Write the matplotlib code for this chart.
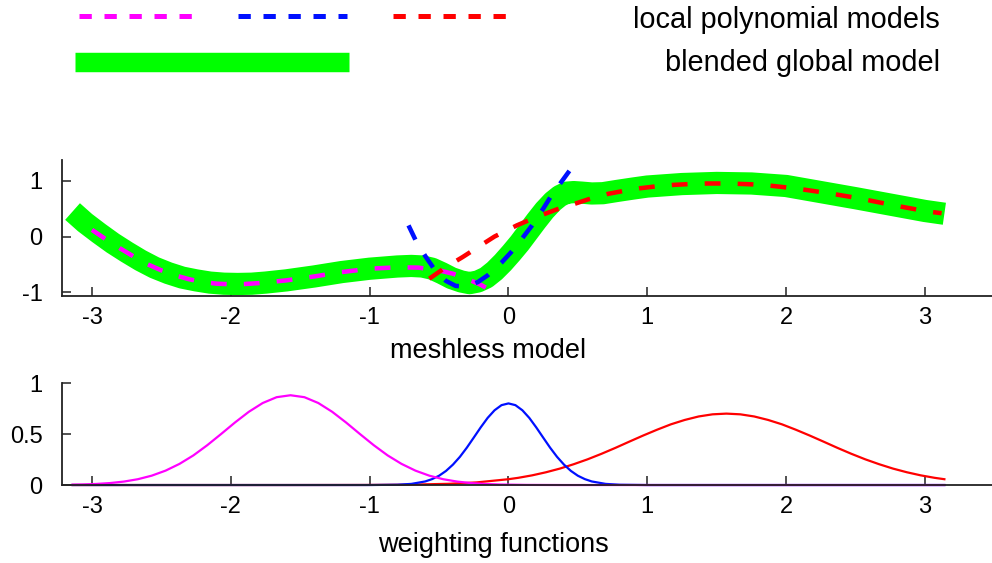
import matplotlib
matplotlib.use("Agg")
import matplotlib.pyplot as plt

plt.rcParams['font.family'] = ['Liberation Sans', 'DejaVu Sans']
plt.rcParams['axes.unicode_minus'] = False

# blended global model (green band)
x_glob = [-3.14, -3.05, -2.95, -2.85, -2.75, -2.65, -2.55, -2.45, -2.35, -2.25, -2.15,
          -2.05, -1.95, -1.85, -1.75, -1.6, -1.4, -1.2, -1.0, -0.8, -0.7, -0.62, -0.55,
          -0.48, -0.41, -0.34, -0.28, -0.22, -0.16, -0.1, -0.04, 0.02, 0.08, 0.14, 0.2,
          0.26, 0.32, 0.37, 0.42, 0.47, 0.53, 0.6, 0.68, 0.78, 0.9, 1.0, 1.25, 1.5,
          1.75, 2.0, 2.25, 2.5, 2.75, 3.0, 3.14]
y_glob = [0.45, 0.25, 0.06, -0.12, -0.28, -0.43, -0.56, -0.66, -0.74, -0.79, -0.83,
          -0.85, -0.855, -0.85, -0.83, -0.79, -0.72, -0.64, -0.58, -0.54, -0.53, -0.54, -0.58,
          -0.66, -0.75, -0.81, -0.84, -0.81, -0.74, -0.62, -0.47, -0.30, -0.12, 0.08, 0.28,
          0.47, 0.63, 0.73, 0.79, 0.80, 0.79, 0.775, 0.78, 0.82, 0.865, 0.90, 0.945, 0.965,
          0.955, 0.91, 0.80, 0.69, 0.575, 0.46, 0.41]

# local polynomial models
x_loc1 = [-3.0, -2.9, -2.8, -2.7, -2.6, -2.5, -2.4, -2.3, -2.2, -2.1, -2.0, -1.9,
          -1.8, -1.6, -1.4, -1.2, -1.0, -0.8, -0.65, -0.5, -0.4, -0.3, -0.2, -0.12, -0.05]
y_loc1 = [0.12, -0.05, -0.21, -0.36, -0.50, -0.61, -0.70, -0.77, -0.82, -0.85, -0.86, -0.855,
          -0.84, -0.79, -0.72, -0.64, -0.58, -0.555, -0.56, -0.61, -0.67, -0.76, -0.87, -0.98, -1.1]

x_loc2 = [-0.72, -0.67, -0.6, -0.52, -0.45, -0.38, -0.3, -0.22, -0.15, -0.05, 0.02,
          0.1, 0.17, 0.25, 0.31, 0.38, 0.45, 0.49]
y_loc2 = [0.20, -0.06, -0.35, -0.64, -0.80, -0.89, -0.90, -0.82, -0.70, -0.47, -0.28,
          -0.03, 0.20, 0.50, 0.74, 0.98, 1.22, 1.34]

x_loc3 = [-0.57, -0.45, -0.33, -0.2, -0.1, 0.06, 0.2, 0.35, 0.49, 0.6, 0.72, 0.85,
          0.95, 1.07, 1.19, 1.31, 1.43, 1.54, 1.64, 1.75, 1.87, 1.98, 2.10, 2.21,
          2.33, 2.45, 2.56, 2.67, 2.78, 2.9, 3.02, 3.12]
y_loc3 = [-0.76, -0.55, -0.37, -0.16, 0.0, 0.20, 0.35, 0.49, 0.60, 0.69, 0.77, 0.83,
          0.87, 0.905, 0.93, 0.945, 0.955, 0.955, 0.95, 0.94, 0.92, 0.89, 0.855, 0.815,
          0.77, 0.72, 0.67, 0.615, 0.56, 0.505, 0.45, 0.42]

# weighting functions
x_w1 = [-3.14, -3.07, -2.97, -2.87, -2.77, -2.67, -2.57, -2.47, -2.37, -2.27, -2.17,
        -2.07, -1.97, -1.87, -1.77, -1.67, -1.57, -1.47, -1.37, -1.27, -1.17, -1.07,
        -0.97, -0.87, -0.77, -0.67, -0.57, -0.47, -0.37, -0.27, -0.17, -0.07, 0.13,
        0.4, 3.14]
y_w1 = [0.004, 0.0054, 0.0104, 0.0192, 0.0338, 0.0569, 0.0916, 0.141, 0.207, 0.290, 0.390,
        0.500, 0.613, 0.718, 0.804, 0.861, 0.88, 0.861, 0.804, 0.718, 0.613, 0.500,
        0.390, 0.290, 0.207, 0.141, 0.0916, 0.0569, 0.0338, 0.0192, 0.0104, 0.0054, 0.0013,
        0.0, 0.0]

x_w2 = [-3.14, -1.0, -0.8, -0.7, -0.6, -0.55, -0.5, -0.45, -0.4, -0.35, -0.3, -0.25,
        -0.2, -0.15, -0.1, -0.05, 0.0, 0.05, 0.1, 0.15, 0.2, 0.25, 0.3, 0.35,
        0.4, 0.45, 0.5, 0.55, 0.6, 0.7, 0.8, 1.0, 3.14]
y_w2 = [0.0, 0.0, 0.003, 0.011, 0.035, 0.058, 0.091, 0.138, 0.200, 0.276, 0.366, 0.465,
        0.565, 0.658, 0.733, 0.783, 0.80, 0.783, 0.733, 0.658, 0.565, 0.465, 0.366, 0.276,
        0.200, 0.138, 0.091, 0.058, 0.035, 0.011, 0.003, 0.0, 0.0]

x_w3 = [-3.14, -1.6, -1.03, -0.73, -0.43, -0.23, 0.0, 0.07, 0.17, 0.27, 0.37, 0.47,
        0.57, 0.67, 0.77, 0.87, 0.97, 1.07, 1.17, 1.27, 1.37, 1.47, 1.57, 1.67,
        1.77, 1.87, 1.97, 2.07, 2.17, 2.27, 2.37, 2.47, 2.57, 2.67, 2.77, 2.87,
        2.97, 3.07, 3.14]
y_w3 = [0.0, 0.0, 0.0007, 0.0032, 0.0118, 0.0257, 0.057, 0.0705, 0.0947, 0.125, 0.161, 0.204,
        0.252, 0.306, 0.364, 0.425, 0.485, 0.542, 0.595, 0.638, 0.672, 0.693, 0.70, 0.693,
        0.672, 0.638, 0.595, 0.542, 0.485, 0.425, 0.364, 0.306, 0.252, 0.204, 0.161, 0.125,
        0.0947, 0.0705, 0.057]

xticks = [-3, -2, -1, 0, 1, 2, 3]
yticks_m = [-1, 0, 1]
yticks_w = [0, 0.5, 1]
yticklabels_w = ['0', '0.5', '1']

MAG = '#ff00ff'
BLU = '#0010ff'
RED = '#ff0000'
GRN = '#00ff00'

fig = plt.figure(figsize=(9.92, 5.63), dpi=100)

def style(ax):
    for s in ['top', 'right']:
        ax.spines[s].set_visible(False)
    for s in ['left', 'bottom']:
        ax.spines[s].set_color('#222222')
        ax.spines[s].set_linewidth(1.3)
    ax.tick_params(direction='in', length=6.5, width=1.1, color='#222222',
                   labelsize=17, top=False, right=False)
    ax.tick_params(axis='y', pad=14)
    ax.tick_params(axis='x', pad=8)
    ax.set_xlim(-3.216, 3.483)
    ax.set_xticks(xticks)

# meshless model
ax1 = fig.add_axes([0.0625, 0.4742, 0.9375, 0.2416])
style(ax1)
ax1.set_ylim(-1.072, 1.378)
ax1.set_yticks(yticks_m)
ax1.plot(x_glob, y_glob, color=GRN, lw=16, solid_capstyle='butt', solid_joinstyle='round')
ax1.plot(x_loc1, y_loc1, color=MAG, lw=3.25, dashes=(3.5, 3.8), dash_capstyle='butt')
ax1.plot(x_loc2, y_loc2, color=BLU, lw=3.25, dashes=(3.5, 3.8), dash_capstyle='butt')
ax1.plot(x_loc3, y_loc3, color=RED, lw=3.25, dashes=(3.5, 3.8), dash_capstyle='butt')

# weighting functions
ax2 = fig.add_axes([0.0625, 0.1385, 0.9375, 0.1812])
style(ax2)
ax2.set_ylim(0, 1)
ax2.set_yticks(yticks_w)
ax2.set_yticklabels(yticklabels_w)
ax2.plot(x_w3, y_w3, color=RED, lw=1.6, clip_on=False)
ax2.plot(x_w2, y_w2, color=BLU, lw=1.6, clip_on=False)
ax2.plot(x_w1, y_w1, color=MAG, lw=1.6, clip_on=False)

fig.text(488 / 992, 1 - 358.3 / 563, 'meshless model', ha='center', va='baseline', fontsize=19.5)
fig.text(493 / 992, 1 - 551.7 / 563, 'weighting functions', ha='center', va='baseline', fontsize=19.5)

# key at the top, in pixel coordinates
key = fig.add_axes([0, 0, 1, 1])
key.set_xlim(0, 992)
key.set_ylim(563, 0)
key.axis('off')
key.plot([79.3, 191.7], [16.3, 16.3], color=MAG, lw=3.6, dashes=(2.46, 2.54), dash_capstyle='butt')
key.plot([238.3, 346.7], [16.3, 16.3], color=BLU, lw=3.6, dashes=(2.46, 2.54), dash_capstyle='butt')
key.plot([393.3, 506.7], [16.3, 16.3], color=RED, lw=3.6, dashes=(2.46, 2.54), dash_capstyle='butt')
key.plot([75.3, 349.3], [62, 62], color=GRN, lw=14, solid_capstyle='butt')
fig.text(940 / 992, 1 - 27.5 / 563, 'local polynomial models', ha='right', va='baseline', fontsize=20.8)
fig.text(940 / 992, 1 - 71 / 563, 'blended global model', ha='right', va='baseline', fontsize=20.8)

fig.savefig('out.png', dpi=100)
